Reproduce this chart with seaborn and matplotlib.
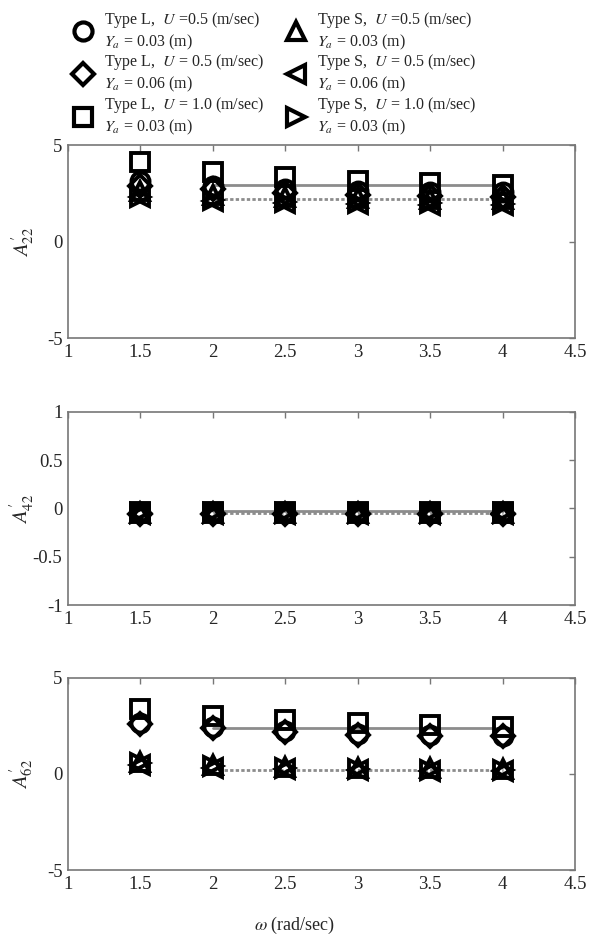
import numpy as np
import pandas as pd
import seaborn as sns
import matplotlib.pyplot as plt
from matplotlib.lines import Line2D

sns.set_style('white')
plt.rcParams['font.family'] = ['Liberation Serif', 'DejaVu Serif']
plt.rcParams['mathtext.fontset'] = 'stix'

omega = [1.5, 2.0, 2.5, 3.0, 3.5, 4.0]
omega_line = [2.0, 2.5, 3.0, 3.5, 4.0]

labels = [
    'Type L,  $U$ =0.5 (m/sec)\n$Y_a$ = 0.03 (m)',
    'Type L,  $U$ = 0.5 (m/sec)\n$Y_a$ = 0.06 (m)',
    'Type L,  $U$ = 1.0 (m/sec)\n$Y_a$ = 0.03 (m)',
    'Type S,  $U$ =0.5 (m/sec)\n$Y_a$ = 0.03 (m)',
    'Type S,  $U$ = 0.5 (m/sec)\n$Y_a$ = 0.06 (m)',
    'Type S,  $U$ = 1.0 (m/sec)\n$Y_a$ = 0.03 (m)',
]
markers = ['o', 'D', 's', '^', '<', '>']

# A'22
a22_L1 = [3.15, 2.9, 2.7, 2.6, 2.55, 2.55]
a22_L2 = [2.9, 2.7, 2.5, 2.4, 2.35, 2.3]
a22_L3 = [4.1, 3.6, 3.35, 3.15, 3.05, 2.95]
a22_S1 = [2.6, 2.4, 2.3, 2.25, 2.2, 2.2]
a22_S2 = [2.3, 2.1, 2.0, 1.95, 1.9, 1.9]
a22_S3 = [2.3, 2.15, 2.05, 2.0, 2.0, 1.95]
a22_line_L = [2.95, 2.95, 2.95, 2.95, 2.95]
a22_line_S = [2.2, 2.2, 2.2, 2.2, 2.2]

# A'42
a42_L1 = [-0.05, -0.05, -0.05, -0.05, -0.05, -0.05]
a42_L2 = [-0.06, -0.06, -0.06, -0.06, -0.06, -0.06]
a42_L3 = [-0.04, -0.04, -0.04, -0.04, -0.04, -0.04]
a42_S1 = [-0.05, -0.05, -0.05, -0.05, -0.05, -0.05]
a42_S2 = [-0.06, -0.06, -0.06, -0.06, -0.06, -0.06]
a42_S3 = [-0.05, -0.05, -0.05, -0.05, -0.05, -0.05]
a42_line_L = [-0.03, -0.03, -0.03, -0.03, -0.03]
a42_line_S = [-0.05, -0.05, -0.05, -0.05, -0.05]

# A'62
a62_L1 = [2.65, 2.45, 2.25, 2.1, 2.05, 2.0]
a62_L2 = [2.6, 2.4, 2.2, 2.05, 2.0, 1.95]
a62_L3 = [3.4, 3.0, 2.8, 2.65, 2.55, 2.45]
a62_S1 = [0.6, 0.45, 0.35, 0.3, 0.3, 0.25]
a62_S2 = [0.45, 0.3, 0.25, 0.2, 0.15, 0.15]
a62_S3 = [0.55, 0.4, 0.3, 0.25, 0.2, 0.2]
a62_line_L = [2.4, 2.4, 2.4, 2.4, 2.4]
a62_line_S = [0.2, 0.2, 0.2, 0.2, 0.2]

panels = [
    ([a22_L1, a22_L2, a22_L3, a22_S1, a22_S2, a22_S3], a22_line_L, a22_line_S,
     "$A^{\\prime}_{22}$", (-5, 5), [-5, 0, 5], ['-5', '0', '5']),
    ([a42_L1, a42_L2, a42_L3, a42_S1, a42_S2, a42_S3], a42_line_L, a42_line_S,
     "$A^{\\prime}_{42}$", (-1, 1), [-1, -0.5, 0, 0.5, 1], ['-1', '-0.5', '0', '0.5', '1']),
    ([a62_L1, a62_L2, a62_L3, a62_S1, a62_S2, a62_S3], a62_line_L, a62_line_S,
     "$A^{\\prime}_{62}$", (-5, 5), [-5, 0, 5], ['-5', '0', '5']),
]

fig = plt.figure(figsize=(5.89, 9.42), dpi=100)
rects = [(0.1155, 0.641, 0.861, 0.205),
         (0.1155, 0.3577, 0.861, 0.205),
         (0.1155, 0.0764, 0.861, 0.204)]

xticks = [1, 1.5, 2, 2.5, 3, 3.5, 4, 4.5]
xticklabels = ['1', '1.5', '2', '2.5', '3', '3.5', '4', '4.5']

for rect, (series, line_L, line_S, ylab, ylim, yt, ytl) in zip(rects, panels):
    ax = fig.add_axes(rect)
    sns.lineplot(x=omega_line, y=line_L, ax=ax, color='#8c8c8c', lw=2, zorder=1)
    sns.lineplot(x=omega_line, y=line_S, ax=ax, color='#8c8c8c', lw=2,
                 linestyle=(0, (1.2, 0.8)), zorder=1)
    for vals, m in zip(series, markers):
        df = pd.DataFrame({'omega': omega, 'val': vals})
        sns.lineplot(data=df, x='omega', y='val', ax=ax, marker=m, linestyle='',
                     markersize=13 if m != 'D' else 11.5, mfc='none', mec='black',
                     mew=2.8, color='black', zorder=3)
    ax.set_xlim(1, 4.5)
    ax.set_ylim(*ylim)
    ax.set_xticks(xticks)
    ax.set_xticklabels(xticklabels)
    ax.set_yticks(yt)
    ax.set_yticklabels(ytl)
    ax.set_xlabel('')
    ax.set_ylabel(ylab, fontsize=15)
    ax.yaxis.set_label_coords(-0.063, 0.5)
    ax.tick_params(direction='in', length=4, width=1, color='#777777',
                   top=True, right=True, labelsize=13.5, pad=4)
    for sp in ax.spines.values():
        sp.set_color('#777777')
        sp.set_linewidth(1.2)

fig.text(0.5, 0.018, r'$\omega$ (rad/sec)', ha='center', va='center', fontsize=13)

handles = [Line2D([], [], marker=m, linestyle='', markersize=13 if m != 'D' else 11.5,
                  mfc='none', mec='black', mew=3) for m in markers]
fig.legend(handles, labels, loc='upper left', bbox_to_anchor=(0.100, 1.005), ncol=2,
           frameon=False, fontsize=11.5, handletextpad=0.7, columnspacing=1.4,
           labelspacing=0.05, handlelength=1.2)

fig.savefig('out.png', dpi=100)
